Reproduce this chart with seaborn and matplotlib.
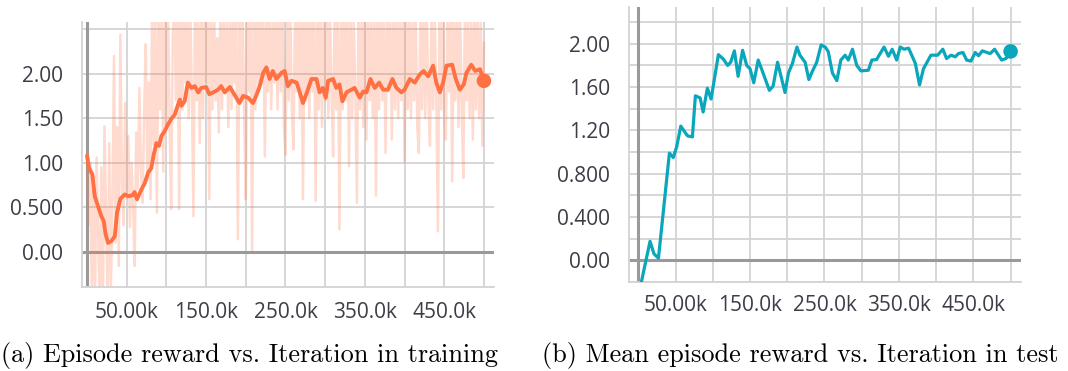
import numpy as np
import matplotlib
matplotlib.use("Agg")
import matplotlib.pyplot as plt
import seaborn as sns
from matplotlib.ticker import FixedLocator

# ---------------- data ----------------
# Training: raw episode reward, logged every 2k iterations from 0 to 500k
train_raw_reward = [
    1.08, 0.30, 1.00, -0.50, 0.85, -0.60, 1.06, 0.20, -0.70, 0.95,
    -0.55, 1.41, 0.40, -0.60, 1.22, -0.45, 0.60, 2.20, 0.10, 1.40,
    -0.16, 2.44, 0.80, 0.30, 1.67, 0.60, 1.30, 0.28, 1.00, 0.55,
    -0.16, 1.34, 0.70, 1.84, 0.90, 0.55, 1.60, 2.33, 0.80, 1.90,
    0.59, 2.80, 1.20, 2.70, 0.44, 2.70, 1.60, 2.80, 0.90, 2.80,
    1.40, 2.75, 1.50, 0.48, 2.40, 2.80, 1.70, 2.90, 0.48, 2.70,
    1.60, 2.80, 1.90, 2.70, 1.50, 2.80, 1.80, 0.40, 2.80, 1.70,
    2.70, 1.22, 2.85, 1.50, 2.70, 1.90, 2.80, 0.59, 2.60, 1.60,
    2.80, 1.70, 2.40, 1.34, 2.80, 1.60, 2.70, 1.80, 2.60, 1.40,
    2.80, 1.60, 2.70, 1.90, 2.80, 0.14, 2.60, 1.70, 2.80, 1.50,
    0.59, 2.70, 1.80, 2.80, 0.00, 2.75, 1.60, 2.90, 1.80, 2.70,
    1.90, 2.80, 1.07, 2.70, 1.80, 2.80, 1.60, 2.60, 1.90, 2.80,
    1.60, 2.70, 1.80, 2.85, 1.40, 1.09, 2.70, 1.70, 2.80, 1.60,
    1.15, 2.70, 1.80, 2.80, 1.50, 2.70, 0.59, 2.60, 1.70, 2.80,
    1.50, 2.70, 1.80, 2.80, 0.57, 2.70, 1.60, 2.80, 1.40, 2.60,
    1.70, 2.80, 1.50, 2.70, 1.80, 1.07, 2.80, 1.60, 2.70, 0.25,
    2.75, 1.60, 2.80, 1.70, 2.70, 0.96, 2.80, 1.50, 2.60, 1.80,
    0.55, 2.70, 1.60, 2.80, 1.40, 2.70, 1.26, 2.80, 1.70, 2.60,
    1.50, 2.80, 0.63, 2.70, 1.60, 2.80, 1.70, 2.60, 1.11, 2.70,
    1.80, 2.80, 1.26, 2.70, 1.60, 2.80, 1.50, 2.60, 1.70, 2.80,
    1.00, 2.70, 1.60, 2.80, 1.50, 2.60, 1.70, 2.80, 1.40, 1.11,
    2.70, 1.60, 2.80, 1.50, 2.70, 1.70, 1.19, 2.80, 1.60, 2.60,
    1.70, 0.23, 2.70, 1.60, 2.80, 1.50, 1.26, 2.70, 1.80, 2.80,
    0.79, 2.60, 1.70, 2.80, 1.40, 2.70, 1.60, 0.83, 2.80, 1.70,
    2.60, 1.50, 2.70, 1.26, 2.80, 1.60, 2.70, 1.50, 2.60, 1.19,
    2.35,
]

# Training: smoothed episode reward (iteration in thousands)
train_smooth_step_k = [
    0, 2.5, 6.7, 9.7, 13.9, 18, 21, 23.5, 26.5, 30.7,
    35, 37.8, 42, 47.5, 51.7, 57, 60, 63, 68.5, 72.7,
    77, 81, 84, 87.4, 90.7, 93.7, 97.9, 102, 106, 110.5,
    114.7, 117, 119, 123, 127, 131.5, 135.7, 140, 144, 150,
    154, 159, 165, 169, 173.5, 180, 184, 188, 192, 196.6,
    203, 209, 213, 217.6, 222, 226, 230, 234, 238.6, 245,
    249, 253, 257.5, 264, 268, 272, 277, 282.7, 289, 293,
    297, 300.7, 303.7, 310, 314, 318, 321.7, 326.8, 333, 337,
    343.6, 347.8, 352, 357, 362.5, 368, 373, 379, 384.7, 389.8,
    396, 400, 406.6, 413, 419, 424, 429.7, 436, 440, 444.4,
    448.6, 452.8, 460, 464.5, 469.6, 474.6, 478, 484, 489, 495,
    500,
]
train_smooth_reward = [
    1.08, 0.94, 0.87, 0.625, 0.51, 0.40, 0.345, 0.195, 0.10, 0.12,
    0.176, 0.44, 0.595, 0.644, 0.625, 0.633, 0.67, 0.59, 0.70, 0.77,
    0.89, 0.94, 1.09, 1.22, 1.19, 1.30, 1.356, 1.43, 1.49, 1.54,
    1.655, 1.71, 1.64, 1.69, 1.90, 1.84, 1.86, 1.79, 1.84, 1.85,
    1.77, 1.79, 1.82, 1.86, 1.79, 1.85, 1.79, 1.73, 1.67, 1.75,
    1.73, 1.67, 1.75, 1.86, 2.01, 2.07, 1.94, 2.03, 1.94, 2.01,
    2.03, 1.86, 1.92, 1.90, 1.79, 1.67, 1.79, 1.94, 1.94, 1.79,
    1.84, 1.73, 1.92, 1.94, 1.84, 1.88, 1.69, 1.79, 1.82, 1.84,
    1.73, 1.80, 1.79, 1.94, 1.84, 1.90, 1.82, 1.82, 1.94, 1.84,
    1.79, 1.82, 1.94, 1.90, 1.99, 2.03, 1.97, 2.09, 1.90, 1.79,
    1.90, 2.09, 2.10, 1.94, 1.82, 1.88, 2.01, 2.10, 2.03, 2.05,
    1.92,
]

# Test: mean episode reward (iteration in thousands)
test_step_k = [
    2.5, 15.7, 21, 27, 41.7, 47, 51.5, 57, 66, 72.6,
    76.6, 83, 87, 92.7, 97.7, 107.5, 114, 120, 124, 129,
    134, 140, 145.6, 150, 155, 161, 167, 176, 181, 187,
    197, 201.6, 207, 213, 217, 224, 229, 234, 239.6, 245.5,
    251, 255, 260.7, 266.6, 272, 277.8, 282, 287.6, 293.4, 299,
    309, 313.6, 320, 330, 336, 341, 347, 351.7, 357, 363,
    372, 377.7, 383, 393, 402, 409, 414, 420, 425.6, 430,
    436, 441, 446.7, 452.5, 457, 462, 472.6, 478.5, 488, 494,
    500,
]
test_mean_reward = [
    -0.25, 0.176, 0.06, 0.02, 0.99, 0.95, 1.05, 1.24, 1.15, 1.14,
    1.52, 1.50, 1.37, 1.59, 1.49, 1.90, 1.86, 1.80, 1.83, 1.935,
    1.70, 1.94, 1.80, 1.77, 1.64, 1.85, 1.74, 1.57, 1.61, 1.83,
    1.55, 1.73, 1.82, 1.97, 1.895, 1.83, 1.67, 1.75, 1.83, 1.99,
    1.97, 1.93, 1.73, 1.66, 1.85, 1.895, 1.85, 1.95, 1.80, 1.75,
    1.756, 1.85, 1.855, 1.97, 1.885, 1.95, 1.85, 1.97, 1.95, 1.96,
    1.82, 1.62, 1.77, 1.895, 1.895, 1.95, 1.864, 1.895, 1.88, 1.91,
    1.92, 1.85, 1.84, 1.92, 1.89, 1.935, 1.91, 1.95, 1.85, 1.865,
    1.93,
]

x_grid_k = [0, 50, 100, 150, 200, 250, 300, 350, 400, 450, 500]
x_tick_labels = ["", "50.00k", "", "150.0k", "", "250.0k", "", "350.0k", "", "450.0k", ""]

train_ytick_values = [0.0, 0.5, 1.0, 1.5, 2.0, 2.5]
train_ytick_labels = ["0.00", "0.500", "1.00", "1.50", "2.00", ""]

test_ytick_values = [-0.2, 0.0, 0.2, 0.4, 0.6, 0.8, 1.0, 1.2, 1.4, 1.6, 1.8, 2.0, 2.2]
test_ytick_labels = ["", "0.00", "", "0.400", "", "0.800", "", "1.20", "", "1.60", "", "2.00", ""]

captions = [
    "(a) Episode reward vs. Iteration in training",
    "(b) Mean episode reward vs. Iteration in test",
]

# ---------------- style ----------------
ORANGE = "#ff7043"
CYAN = "#0aa6bc"
GRID = "#d3d3d3"
ZERO = "#9a9a9a"
TEXT = "#3d3d48"

sns.set_style("white")
plt.rcParams["font.family"] = ["Open Sans", "DejaVu Sans"]

fig = plt.figure(figsize=(10.68, 3.71), dpi=100)
ax1 = fig.add_axes([0.0768, 0.2264, 0.3857, 0.7143])
ax2 = fig.add_axes([0.589, 0.2399, 0.367, 0.7412])


def style_axes(ax, xlim, ylim, yvals, ylabels, xpad):
    ax.set_xlim(*xlim)
    ax.set_ylim(*ylim)
    ax.xaxis.set_major_locator(FixedLocator(x_grid_k))
    ax.set_xticklabels(x_tick_labels)
    ax.yaxis.set_major_locator(FixedLocator(yvals))
    ax.set_yticklabels(ylabels)
    ax.set_axisbelow(True)
    ax.grid(True, color=GRID, linewidth=1.3)
    for side in ("top", "right"):
        ax.spines[side].set_visible(False)
    for side in ("left", "bottom"):
        ax.spines[side].set_color(GRID)
        ax.spines[side].set_linewidth(1.3)
    ax.tick_params(axis="both", length=6.5, width=1.3, color=GRID,
                   labelsize=15, labelcolor=TEXT)
    ax.tick_params(axis="y", pad=7)
    ax.tick_params(axis="x", pad=xpad)
    ax.axhline(0, color=ZERO, linewidth=2.2, zorder=1.5)
    ax.axvline(0, color=ZERO, linewidth=2.2, zorder=1.5)
    ax.set_xlabel("")
    ax.set_ylabel("")


# Training panel
raw_steps = np.linspace(0, 500, len(train_raw_reward))
sns.lineplot(x=raw_steps, y=train_raw_reward, ax=ax1, color=ORANGE,
             alpha=0.25, linewidth=1.8, zorder=2)
sns.lineplot(x=train_smooth_step_k, y=train_smooth_reward, ax=ax1,
             color=ORANGE, linewidth=2.8, zorder=3)
sns.scatterplot(x=[train_smooth_step_k[-1]], y=[train_smooth_reward[-1]],
                ax=ax1, color=ORANGE, s=110, edgecolor="none", zorder=4,
                clip_on=False)
style_axes(ax1, (-6.3, 512.6), (-0.395, 2.58),
           train_ytick_values, train_ytick_labels, xpad=4)

# Test panel
sns.lineplot(x=test_step_k, y=test_mean_reward, ax=ax2, color=CYAN,
             linewidth=2.3, zorder=3)
sns.scatterplot(x=[test_step_k[-1]], y=[test_mean_reward[-1]], ax=ax2,
                color=CYAN, s=110, edgecolor="none", zorder=4, clip_on=False)
style_axes(ax2, (-12.5, 514), (-0.2, 2.34),
           test_ytick_values, test_ytick_labels, xpad=3)

# Captions
fig.text(0.234, 0.043, captions[0], ha="center", va="center",
         fontfamily="cmr10", fontsize=18.9, color="black")
fig.text(0.749, 0.043, captions[1], ha="center", va="center",
         fontfamily="cmr10", fontsize=18.9, color="black")

fig.savefig("out.png", dpi=100)
